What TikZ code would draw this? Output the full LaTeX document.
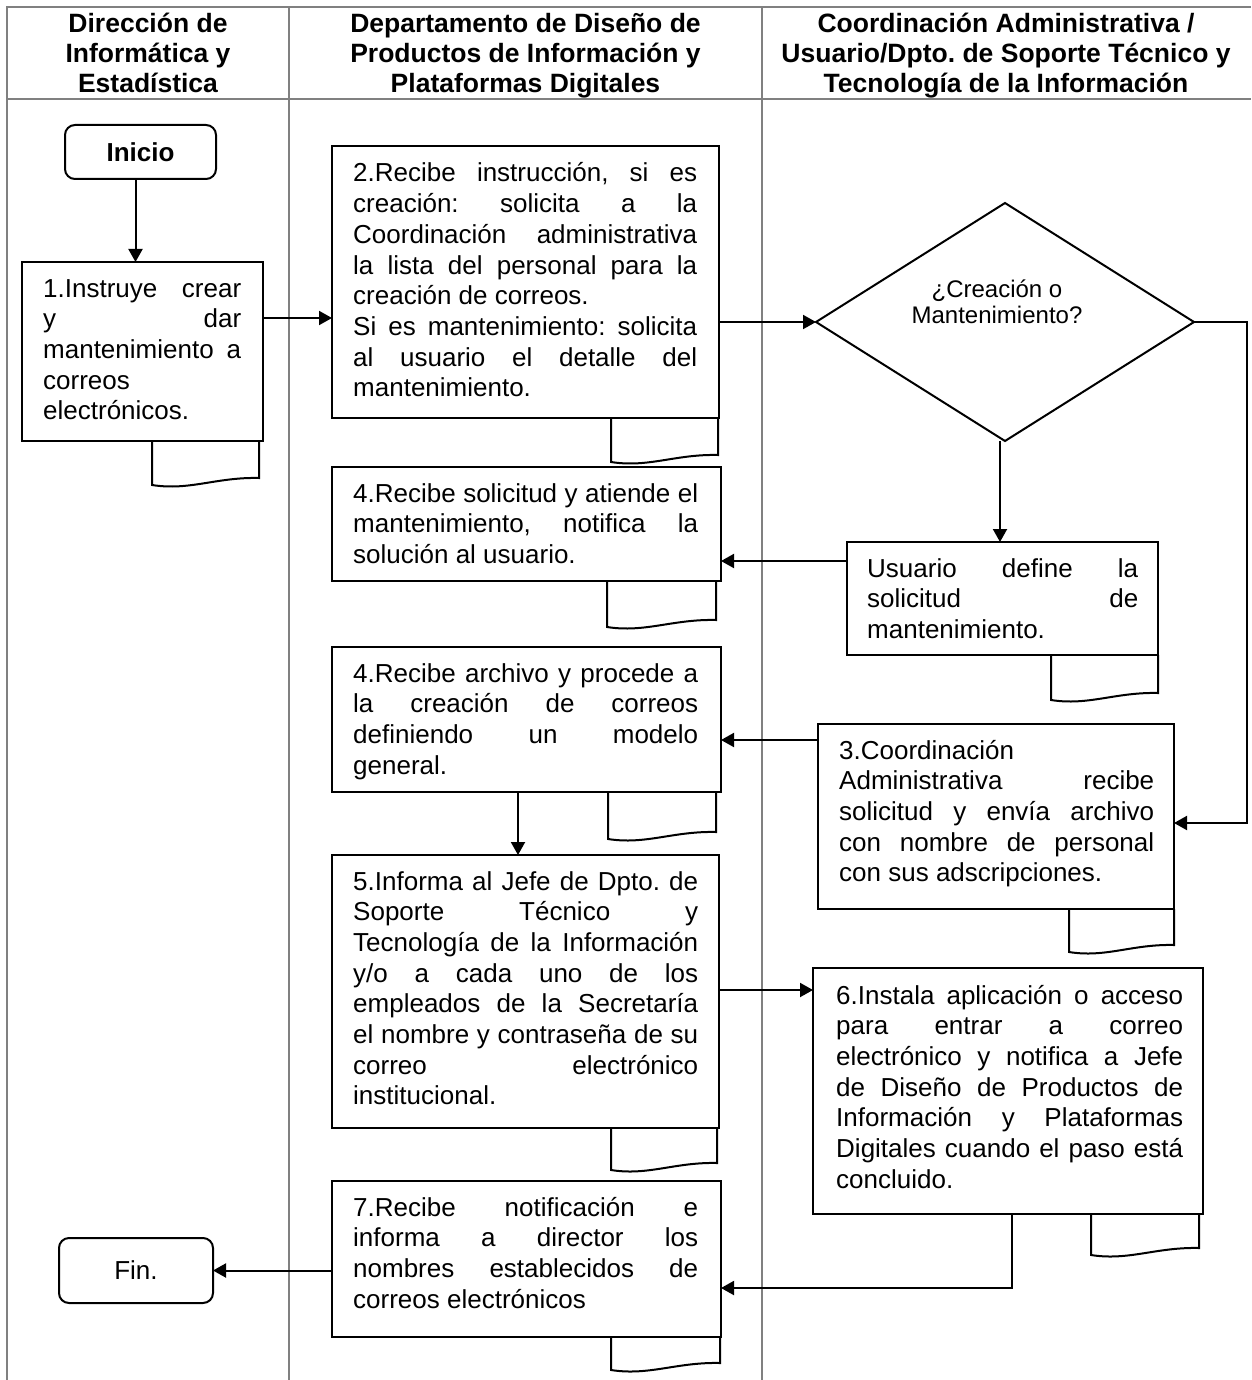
\documentclass[tikz,border=0pt]{standalone}
\usepackage{fontspec}
\setmainfont{Liberation Sans}
\usetikzlibrary{arrows.meta,shapes.geometric}
\definecolor{lanegray}{RGB}{128,128,128}
\frenchspacing
\newcommand\J[1]{\hbox to\hsize{\spaceskip=.278em plus 1fil\relax #1}}
\newcommand\Ll[1]{\hbox{#1}}
\newcommand\Cc[1]{\hbox to\hsize{\hfil #1\hfil}}
\newcommand\txt[2]{\vtop{\hsize=#1pt \lineskiplimit=-100pt #2}}
\newcommand\doctab[4]{%
  \draw[tabline] (#1,#3) -- (#1,#4) .. controls ({#1+0.35*(#2-#1)},{#4+6}) and ({#1+0.6*(#2-#1)},{#4-8}) .. (#2,{#4-7}) -- (#2,#3);}
\tikzset{
  lane/.style={draw=lanegray, line width=2pt},
  box/.style={draw, line width=2.8pt, inner sep=0pt, outer sep=0pt, anchor=north west},
  term/.style={draw, line width=2pt, rounded corners=10pt, inner sep=0pt, outer sep=0pt},
  tabline/.style={line width=2pt},
  arr/.style={line width=2pt, -{Triangle[length=13pt,width=14pt]}},
  tx/.style={inner sep=0pt, anchor=base west, font=\fontsize{26}{30.7}\selectfont},
  hd/.style={inner sep=0pt, anchor=base, font=\bfseries\fontsize{26.5}{30}\selectfont},
}
\begin{document}
\begin{tikzpicture}[x=1pt,y=-1pt]
\useasboundingbox (0,0) rectangle (1251,1380);
% lanes
\draw[lane] (7,1380) -- (7,7) -- (1251,7);
\draw[lane] (7,99) -- (1251,99);
\draw[lane] (289,7) -- (289,1380);
\draw[lane] (762,7) -- (762,1380);
% headers
\node[hd] (h1) at (148,33) {\txt{280}{\Cc{Dirección de}\Cc{Informática y}\Cc{Estadística}}};
\node[hd] (h2) at (525.5,33) {\txt{460}{\Cc{Departamento de Diseño de}\Cc{Productos de Información y}\Cc{Plataformas Digitales}}};
\node[hd] (h3) at (1006,33) {\txt{480}{\Cc{Coordinación Administrativa /}\Cc{Usuario/Dpto. de Soporte Técnico y}\Cc{Tecnología de la Información}}};
% terminals
\node[term, minimum width=151pt, minimum height=54pt, font=\bfseries\fontsize{26}{30}\selectfont] (ini) at (140.5,152) {Inicio};
\node[term, minimum width=154pt, minimum height=65pt, font=\fontsize{26}{30}\selectfont] (fin) at (136,1270.5) {Fin.};
% boxes
\node[box, minimum width=241pt, minimum height=179pt] (b1) at (22,262) {};
\node[box, minimum width=387pt, minimum height=272pt] (b2) at (332,146) {};
\node[box, minimum width=389pt, minimum height=114pt] (b4a) at (332,467) {};
\node[box, minimum width=389pt, minimum height=145pt] (b4b) at (332,647) {};
\node[box, minimum width=387pt, minimum height=273pt] (b5) at (332,855) {};
\node[box, minimum width=389pt, minimum height=156pt] (b7) at (332,1181) {};
\node[box, line width=2.4pt, minimum width=311pt, minimum height=113pt] (usr) at (847,542) {};
\node[box, minimum width=356pt, minimum height=185pt] (b3) at (818,724) {};
\node[box, minimum width=390pt, minimum height=246pt] (b6) at (813,968) {};
\node[draw, diamond, line width=2pt, inner sep=0pt, outer sep=0pt, minimum width=378pt, minimum height=238pt] (dia) at (1005,322) {};
% tabs
\doctab{152}{259}{441}{485}
\doctab{611}{718}{418}{462}
\doctab{607}{716}{581}{627}
\doctab{608}{716}{792}{839}
\doctab{611}{717}{1128}{1170}
\doctab{611}{720}{1337}{1370}
\doctab{1051}{1158}{655}{700}
\doctab{1069}{1174}{909}{952}
\doctab{1091}{1199}{1214}{1255}
% texts
\node[tx] (b1t) at (43,297) {\txt{198}{\J{1.Instruye crear}\J{y dar}\J{mantenimiento a}\Ll{correos}\Ll{electrónicos.}}};
\node[tx] (b2t) at (353,182) {\txt{344}{\J{2.Recibe instrucción, si es}\J{creación: solicita a la}\J{Coordinación administrativa}\J{la lista del personal para la}\Ll{creación de correos.}\J{Si es mantenimiento: solicita}\J{al usuario el detalle del}\Ll{mantenimiento.}}};
\node[tx] (b4at) at (353,502) {\txt{345}{\J{4.Recibe solicitud y atiende el}\J{mantenimiento, notifica la}\Ll{solución al usuario.}}};
\node[tx] (b4bt) at (353,682) {\txt{345}{\J{4.Recibe archivo y procede a}\J{la creación de correos}\J{definiendo un modelo}\Ll{general.}}};
\node[tx] (b5t) at (353,890) {\txt{345}{\J{5.Informa al Jefe de Dpto. de}\J{Soporte Técnico y}\J{Tecnología de la Información}\J{y/o a cada uno de los}\J{empleados de la Secretaría}\J{el nombre y contraseña de su}\J{correo electrónico}\Ll{institucional.}}};
\node[tx] (b7t) at (353,1216) {\txt{345}{\J{7.Recibe notificación e}\J{informa a director los}\J{nombres establecidos de}\Ll{correos electrónicos}}};
\node[tx] (usrt) at (867,577) {\txt{271}{\J{Usuario define la}\J{solicitud de}\Ll{mantenimiento.}}};
\node[tx] (b3t) at (839,759) {\txt{315}{\Ll{3.Coordinación}\J{Administrativa recibe}\J{solicitud y envía archivo}\J{con nombre de personal}\Ll{con sus adscripciones.}}};
\node[tx] (b6t) at (836,1004) {\txt{347}{\J{6.Instala aplicación o acceso}\J{para entrar a correo}\J{electrónico y notifica a Jefe}\J{de Diseño de Productos de}\J{Información y Plataformas}\J{Digitales cuando el paso está}\Ll{concluido.}}};
\node[inner sep=0pt, anchor=base, font=\fontsize{24}{26}\selectfont] (diat) at (997,297) {\txt{220}{\Cc{¿Creación o}\Cc{Mantenimiento?}}};
% connectors
\coordinate (rc) at (1247,823);
\draw[arr] ([xshift=-5pt]ini.south) -- ([xshift=-5pt]ini.south |- b1.north);
\draw[arr] (b1.east |- 0,318) -- (b2.west |- 0,318);
\draw[arr] (b2.east |- dia.west) -- (dia.west);
\draw[arr] (dia.east) -| (rc) -- (rc -| b3.east);
\draw[arr] ([xshift=-5pt]dia.south) -- ([xshift=-5pt]dia.south |- usr.north);
\draw[arr] (usr.west |- 0,561) -- (b4a.east |- 0,561);
\draw[arr] (b3.west |- 0,740) -- (b4b.east |- 0,740);
\draw[arr] (b4b.south -| 518,0) -- (b5.north -| 518,0);
\draw[arr] (b5.east |- 0,990) -- (b6.west |- 0,990);
\draw[arr] (b6.south -| 1012,0) |- (b7.east |- 0,1288);
\draw[arr] (b7.west |- fin.east) -- (fin.east);
\end{tikzpicture}
\end{document}
